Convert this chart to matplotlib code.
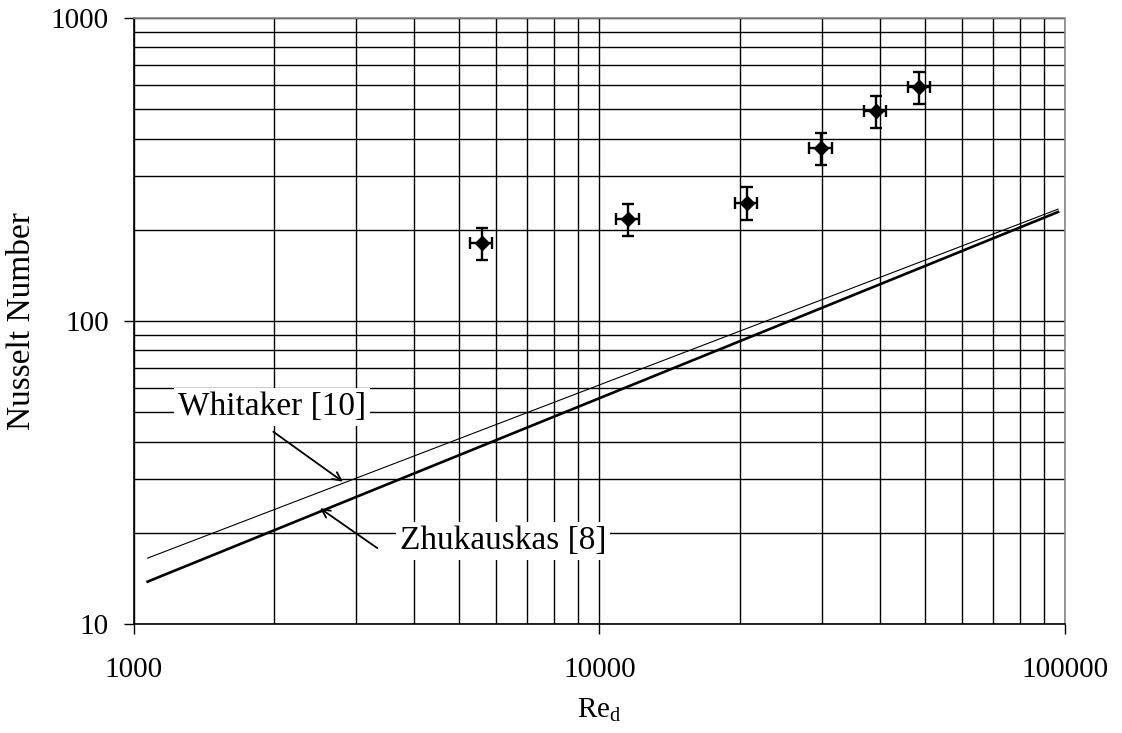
import matplotlib
matplotlib.use("Agg")
import matplotlib.pyplot as plt
from matplotlib.ticker import LogLocator, NullFormatter, FixedLocator

plt.rcParams['font.family'] = ['Liberation Serif', 'DejaVu Serif']

# measured points
re_data = [5580, 11500, 20700, 29900, 39200, 48600]
nu_data = [181, 217, 246, 372, 494, 593]
re_err = [310, 630, 1140, 1650, 2150, 2670]
nu_err = [22, 26, 30, 45, 59, 71]

# correlations (straight lines on log-log)
re_line = [1070, 96600]
whitaker = [16.5, 234]
zhukauskas = [13.8, 229]

fig = plt.figure(figsize=(11.22, 7.33), dpi=100)
ax = fig.add_axes([0.1194, 0.1487, 0.8298, 0.8267])

ax.set_xscale("log")
ax.set_yscale("log")
ax.set_xlim(1000, 100000)
ax.set_ylim(10, 1000)

ax.plot(re_line, whitaker, color="black", lw=0.8, zorder=3)
ax.plot(re_line, zhukauskas, color="black", lw=1.9, zorder=3)

ax.errorbar(re_data, nu_data, xerr=re_err, yerr=nu_err, fmt="D", color="black",
            ms=7, elinewidth=1.7, capsize=4, capthick=1.7, zorder=4)

# grid
ax.grid(True, which="both", color="black", lw=1.0)
ax.set_axisbelow(True)

ax.xaxis.set_major_locator(FixedLocator([1000, 10000, 100000]))
ax.yaxis.set_major_locator(FixedLocator([10, 100, 1000]))
ax.xaxis.set_minor_locator(LogLocator(base=10, subs=range(2, 10)))
ax.yaxis.set_minor_locator(LogLocator(base=10, subs=range(2, 10)))
ax.xaxis.set_minor_formatter(NullFormatter())
ax.yaxis.set_minor_formatter(NullFormatter())
ax.set_xticklabels(["1000", "10000", "100000"])
ax.set_yticklabels(["10", "100", "1000"])

ax.tick_params(which="major", direction="out", length=7, width=1, labelsize=21)
ax.tick_params(axis="y", which="major", pad=11)
ax.tick_params(axis="x", which="major", pad=17)
ax.tick_params(which="minor", length=0)

for s in ["left", "bottom"]:
    ax.spines[s].set_linewidth(1.2)
for s in ["top", "right"]:
    ax.spines[s].set_color("#888888")
    ax.spines[s].set_linestyle((0, (1, 1)))
    ax.spines[s].set_linewidth(1.2)

ax.set_xlabel("Re$_\\mathregular{d}$", fontsize=21, labelpad=9)
ax.set_ylabel("Nusselt Number", fontsize=24, labelpad=10)

bbox = dict(boxstyle="square,pad=0.12", fc="white", ec="none")
ax.text(1981, 52.0, "Whitaker [10]", fontsize=24, ha="center", va="center",
        bbox=bbox, zorder=5)
ax.text(3727, 18.8, "Zhukauskas [8]", fontsize=24, ha="left", va="center",
        bbox=bbox, zorder=5)
arrow = dict(arrowstyle="->,head_length=0.6,head_width=0.3", color="black",
             lw=1.3, shrinkA=0, shrinkB=0)
ax.annotate("", xy=(2810, 29.5), xytext=(1992, 43.1), arrowprops=arrow, zorder=5)
ax.annotate("", xy=(2510, 24.1), xytext=(3332, 17.8), arrowprops=arrow, zorder=5)

fig.savefig("out.png", dpi=100)
